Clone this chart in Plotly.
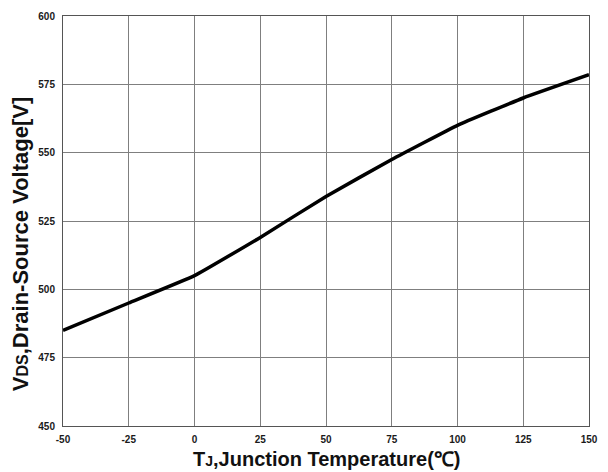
import plotly.graph_objects as go

# Junction temperature (°C) and drain-source breakdown voltage (V)
temperature = [-50, -25, 0, 25, 50, 75, 100, 125, 150]
voltage = [485, 495, 505, 519, 534, 547.5, 560, 570, 578.5]

x_ticks = [-50, -25, 0, 25, 50, 75, 100, 125, 150]
y_ticks = [450, 475, 500, 525, 550, 575, 600]

x_title = "T<span style='font-size:14px'>J</span>,Junction Temperature(℃)"
y_title = "V<span style='font-size:16px'>DS</span>,Drain-Source Voltage[V]"

W, H = 608, 472
L, R, T, B = 63, 10, 15, 46
plot_w, plot_h = W - L - R, H - T - B

fig = go.Figure()
fig.add_trace(go.Scatter(
    x=temperature, y=voltage, mode="lines",
    line=dict(color="black", width=3.5, shape="spline", smoothing=0.3),
    showlegend=False,
))

tick_font = dict(family="Liberation Sans, Arial", size=10, color="#1a1a1a", weight="bold")
axis_common = dict(
    showgrid=True, gridcolor="#7f7f7f", gridwidth=1,
    showline=True, linecolor="#555555", linewidth=1, mirror=True,
    zeroline=False, ticks="", tickfont=tick_font,
)

fig.update_xaxes(range=[-50, 150], tickvals=x_ticks,
                 ticktext=[str(v) for v in x_ticks], ticklabelstandoff=4, **axis_common)
fig.update_yaxes(range=[450, 600], tickvals=y_ticks,
                 ticktext=[str(v) for v in y_ticks], ticklabelstandoff=5, **axis_common)

title_font = dict(family="Liberation Sans, Arial", size=20, color="#111111", weight="bold")
fig.add_annotation(
    text=x_title, xref="paper", yref="paper",
    x=(331 - L) / plot_w, y=-(459 - (T + plot_h)) / plot_h,
    xanchor="center", yanchor="middle", showarrow=False, font=title_font,
)
fig.add_annotation(
    text=y_title, xref="paper", yref="paper", textangle=-90,
    x=-(L - 20) / plot_w, y=((T + plot_h) - 244) / plot_h,
    xanchor="center", yanchor="middle", showarrow=False,
    font=dict(title_font, size=22),
)

fig.update_layout(
    width=W, height=H,
    margin=dict(l=L, r=R, t=T, b=B),
    paper_bgcolor="white", plot_bgcolor="white",
)

fig.write_html("out.html")
